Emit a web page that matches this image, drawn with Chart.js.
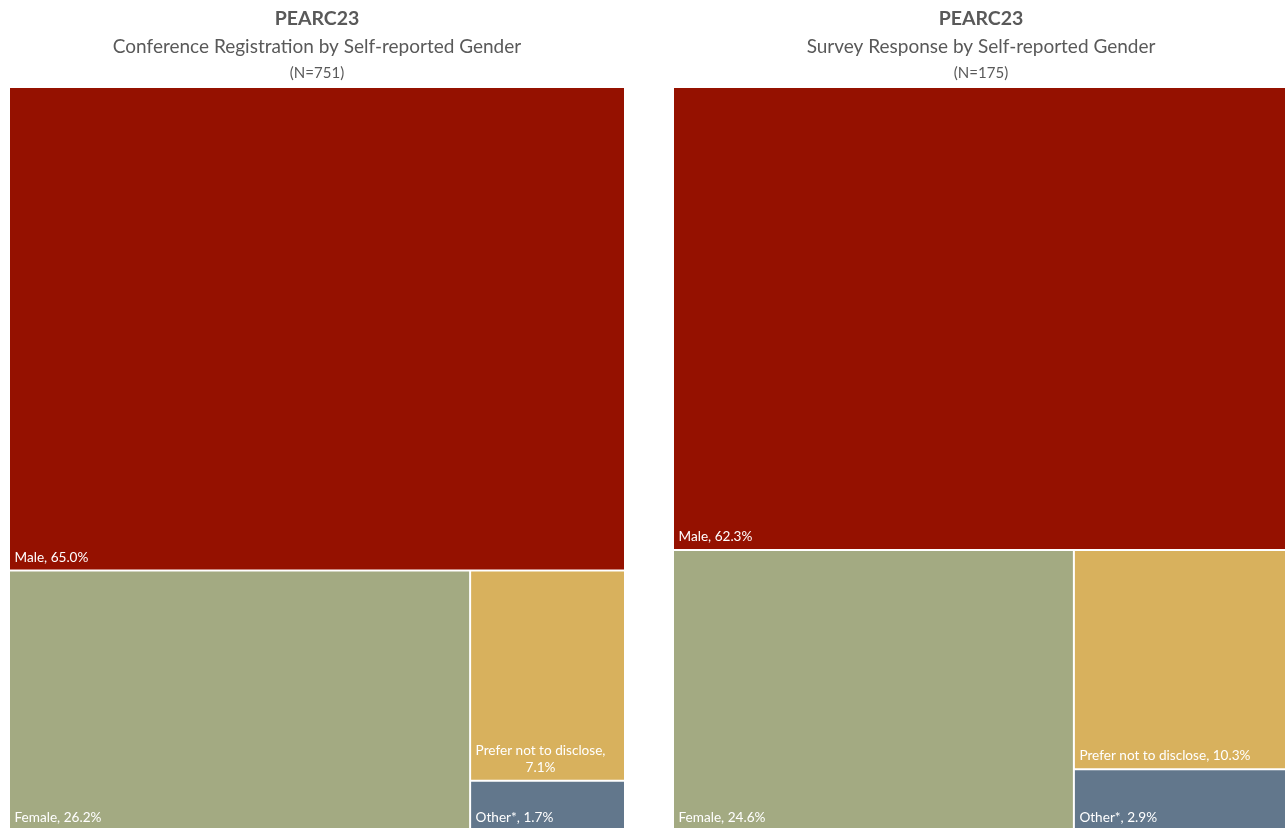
<!DOCTYPE html>
<html>
<head>
<meta charset="utf-8">
<script src="https://cdn.jsdelivr.net/npm/chart.js@4.4.1/dist/chart.umd.min.js"></script>
<style>
  html, body { margin: 0; padding: 0; background: #ffffff; overflow: hidden; width: 1285px; height: 828px; }
  .wrap { position: absolute; top: 0; width: 634px; height: 831px; }
  #w1 { left: 0; }
  #w2 { left: 664px; }
</style>
</head>
<body>
<div class="wrap" id="w1"><canvas id="c1" width="634" height="831"></canvas></div>
<div class="wrap" id="w2"><canvas id="c2" width="634" height="831"></canvas></div>
<script>
// ---- data ----
const categories = ['Male', 'Female', 'Prefer not to disclose', 'Other*'];
const registrationValues = [65.0, 26.2, 7.1, 1.7];
const surveyValues = [62.3, 24.6, 10.3, 2.9];
const categoryColors = ['#951100', '#A3AA82', '#D8B15D', '#62778C'];
const chartTitles = ['PEARC23', 'PEARC23'];
const chartSubtitles = ['Conference Registration by Self-reported Gender', 'Survey Response by Self-reported Gender'];
const chartCounts = ['(N=751)', '(N=175)'];

const FONT = 'Lato, "Open Sans", sans-serif';
const GREY = '#595959';

// ---- squarified layout (returns fractions of the area, in 0..100 units) ----
function worstRatio(row, side) {
  const s = row.reduce((a, b) => a + b, 0);
  const mx = Math.max(...row), mn = Math.min(...row);
  return Math.max(side * side * mx / (s * s), (s * s) / (side * side * mn));
}
function squarify(vals, W, H) {
  const total = vals.reduce((a, b) => a + b, 0);
  const areas = vals.map(v => v / total * W * H);
  const out = [];
  let x = 0, y = 0, w = W, h = H, i = 0;
  while (i < areas.length) {
    const side = Math.min(w, h);
    const row = [areas[i]];
    let j = i + 1;
    while (j < areas.length && worstRatio(row.concat(areas[j]), side) <= worstRatio(row, side)) {
      row.push(areas[j]); j++;
    }
    const s = row.reduce((a, b) => a + b, 0);
    if (w >= h) {
      const cw = s / h; let yy = y;
      row.forEach(a => { const rh = a / cw; out.push({x, y: yy, w: cw, h: rh}); yy += rh; });
      x += cw; w -= cw;
    } else {
      const rh = s / w; let xx = x;
      row.forEach(a => { const cw = a / rh; out.push({x: xx, y, w: cw, h: rh}); xx += cw; });
      y += rh; h -= rh;
    }
    i = j;
  }
  return out.map(r => ({x: r.x / W * 100, y: r.y / H * 100, w: r.w / W * 100, h: r.h / H * 100}));
}

// ---- custom treemap controller built on Chart.js bar elements ----
class TreemapController extends Chart.DatasetController {
  parse(start, count) {
    const meta = this._cachedMeta;
    meta._parsed = this._data.map(v => ({x: 0, y: 0, v: +v}));
  }
  getMinMax(scale) { return {min: 0, max: 100}; }
  update(mode) {
    const meta = this._cachedMeta;
    this.updateElements(meta.data, 0, meta.data.length, mode);
  }
  updateElements(elems, start, count, mode) {
    const meta = this._cachedMeta;
    const xs = meta.xScale, ys = meta.yScale;
    const vals = meta._parsed.map(p => p.v);
    const rects = squarify(vals, Math.abs(xs.right - xs.left), Math.abs(ys.bottom - ys.top));
    for (let i = start; i < start + count; i++) {
      const r = rects[i];
      const l = xs.getPixelForValue(r.x), rr = xs.getPixelForValue(r.x + r.w);
      const t = ys.getPixelForValue(r.y), b = ys.getPixelForValue(r.y + r.h);
      const options = this.resolveDataElementOptions(i, mode);
      Object.assign(elems[i], {
        x: (l + rr) / 2, width: rr - l, y: t, base: b, height: b - t,
        horizontal: false, borderSkipped: {}, inflateAmount: 0, enableBorderRadius: false,
        options
      });
    }
  }
  draw() {
    const ctx = this._ctx;
    this._cachedMeta.data.forEach(el => el.draw(ctx, this.chart.chartArea));
  }
}
TreemapController.id = 'treemap';
TreemapController.defaults = { datasetElementType: false, dataElementType: 'bar' };
Chart.register(TreemapController);

// ---- labels inside cells ----
const cellLabels = {
  id: 'cellLabels',
  afterDatasetsDraw(chart) {
    const ctx = chart.ctx;
    const meta = chart.getDatasetMeta(0);
    const vals = chart.data.datasets[0].data;
    ctx.save();
    ctx.fillStyle = '#ffffff';
    ctx.font = '13.6px ' + FONT;
    ctx.textBaseline = 'alphabetic';
    const lh = 17;
    meta.data.forEach((el, i) => {
      const left = el.x - el.width / 2;
      const bottom = Math.max(el.y, el.base);
      const text = chart.data.labels[i] + ', ' + vals[i].toFixed(1) + '%';
      const avail = el.width - 12;
      let lines = [text];
      if (ctx.measureText(text).width > avail) {
        const words = text.split(' ');
        lines = []; let cur = '';
        words.forEach(w => {
          const t = cur ? cur + ' ' + w : w;
          if (ctx.measureText(t).width > avail && cur) { lines.push(cur); cur = w; } else cur = t;
        });
        if (cur) lines.push(cur);
      }
      const blockW = Math.max(...lines.map(l => ctx.measureText(l).width));
      const x0 = left + 5.5;
      lines.forEach((ln, k) => {
        const yy = bottom - 9 - (lines.length - 1 - k) * lh;
        const lw = ctx.measureText(ln).width;
        ctx.textAlign = 'left';
        ctx.fillText(ln, x0 + (blockW - lw) / 2, yy);
      });
    });
    ctx.restore();
  }
};

// ---- the (N=...) line under the subtitle ----
const countLine = {
  id: 'countLine',
  afterDraw(chart, args, opts) {
    const ctx = chart.ctx;
    ctx.save();
    ctx.fillStyle = GREY;
    ctx.font = '15px ' + FONT;
    ctx.textAlign = 'center';
    ctx.textBaseline = 'middle';
    const a = chart.chartArea;
    ctx.fillText(opts.text, (a.left + a.right) / 2, a.top - 14);
    ctx.restore();
  }
};

function makeChart(id, idx, values) {
  return new Chart(document.getElementById(id), {
    type: 'treemap',
    data: {
      labels: categories,
      datasets: [{
        data: values,
        backgroundColor: categoryColors,
        borderColor: '#ffffff',
        borderWidth: 1
      }]
    },
    options: {
      responsive: false,
      animation: false,
      events: [],
      layout: { padding: { top: 0, left: 9, right: 9, bottom: 0 } },
      scales: {
        x: { type: 'linear', min: 0, max: 100, display: false },
        y: { type: 'linear', min: 0, max: 100, reverse: true, display: false }
      },
      plugins: {
        legend: { display: false },
        tooltip: { enabled: false },
        title: {
          display: true, text: chartTitles[idx], color: GREY,
          font: { family: FONT, size: 19.5, weight: 'bold', lineHeight: 1.2 },
          padding: { top: 7.5, bottom: 4.7 }
        },
        subtitle: {
          display: true, text: chartSubtitles[idx], color: GREY,
          font: { family: FONT, size: 19, weight: 'normal', lineHeight: 1.2 },
          padding: { top: 0, bottom: 28.6 }
        },
        countLine: { text: chartCounts[idx] }
      }
    },
    plugins: [cellLabels, countLine]
  });
}

makeChart('c1', 0, registrationValues);
makeChart('c2', 1, surveyValues);
</script>
</body>
</html>
